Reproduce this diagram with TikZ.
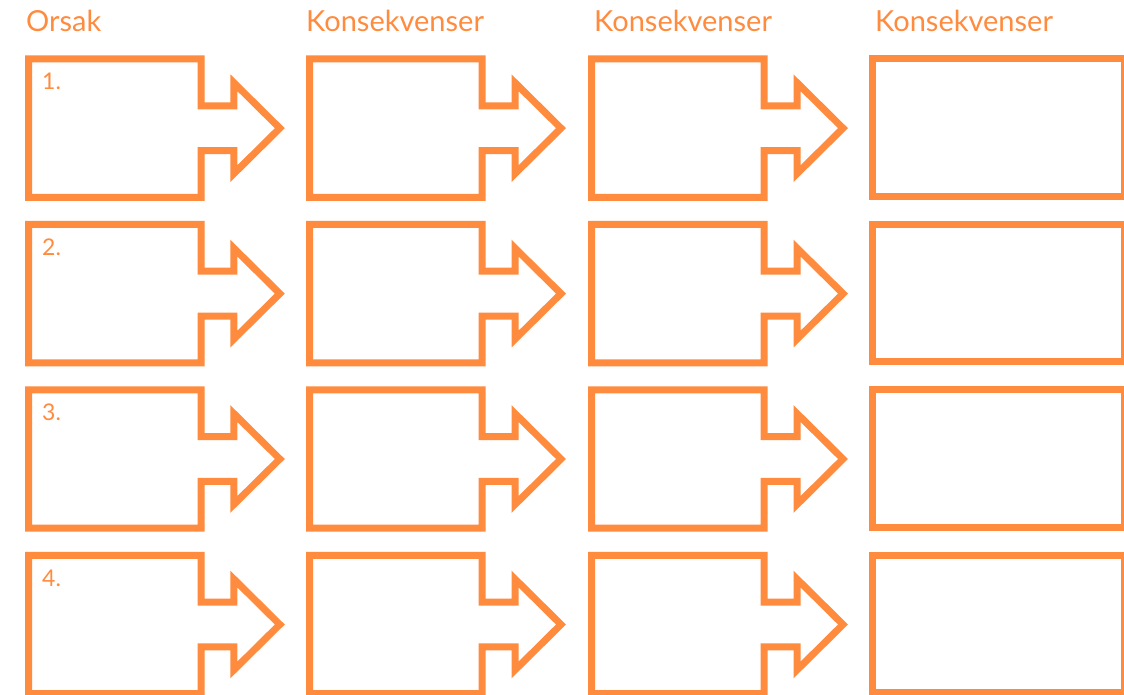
\documentclass[tikz,border=0pt]{standalone}
\usepackage{fontspec}
\setmainfont{Lato}
\definecolor{orng}{HTML}{FF8B3E}
\tikzset{
  shapeline/.style={draw=orng, line width=7pt, line join=miter, miter limit=10},
  header/.style={anchor=base west, inner sep=0pt, text=orng, font=\fontsize{29}{34}\selectfont},
  numlabel/.style={anchor=base west, inner sep=0pt, text=orng, font=\fontsize{23}{28}\selectfont},
}
\newcommand\arrowbox[2]{%
  \draw[shapeline] (#1,#2) -- ++(172.5,0) -- ++(0,46.8) -- ++(32.8,0) -- ++(0,-23.1)
    -- ++(46,45.5) -- ++(-46,45.5) -- ++(0,-23.1) -- ++(-32.8,0) -- ++(0,46.8)
    -- ++(-172.5,0) -- cycle;}
\newcommand\plainbox[2]{%
  \draw[shapeline] (#1,#2) rectangle ++(252,137.5);}
\begin{document}
\begin{tikzpicture}[x=1pt,y=-1pt]
\useasboundingbox (0,0) rectangle (1124,695);
\clip (0,0) rectangle (1124,695);
\foreach \y in {59,224.4,389.8,555.3}{
  \arrowbox{28.5}{\y}
  \arrowbox{309.7}{\y}
  \arrowbox{591.7}{\y}
  \plainbox{872.3}{\y}
}
\node[header] (h1) at (26,31.7) {Orsak};
\node[header] (h2) at (306,31.7) {Konsekvenser};
\node[header] (h3) at (594,31.7) {Konsekvenser};
\node[header] (h4) at (875,31.7) {Konsekvenser};
\node[numlabel] (n1) at (42,90) {1.};
\node[numlabel] (n2) at (42,255.4) {2.};
\node[numlabel] (n3) at (42,420.8) {3.};
\node[numlabel] (n4) at (42,586.3) {4.};
\end{tikzpicture}
\end{document}
